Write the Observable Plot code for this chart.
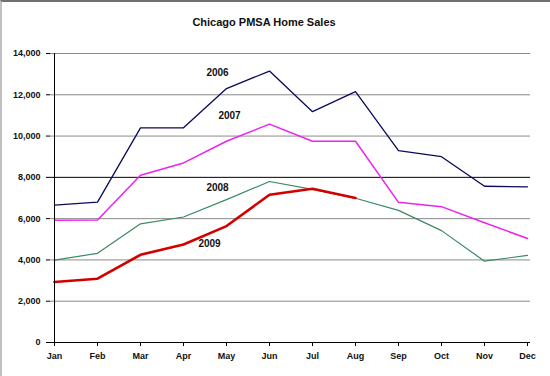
<!DOCTYPE html>
<html>
<head>
<meta charset="utf-8">
<script src="https://cdn.jsdelivr.net/npm/d3@7"></script>
<script src="https://cdn.jsdelivr.net/npm/@observablehq/plot@0.6"></script>
<style>
  html, body { margin: 0; padding: 0; background: #fff; }
  #wrap { position: relative; width: 548px; height: 374px; border-top: 2px solid #707070; border-left: 2px solid #c0c0c0; overflow: hidden; background: #fff; }
  #title { position: absolute; left: 0; top: 0; width: 524px; height: 38px; font: bold 11px "Liberation Sans", Arial, sans-serif; line-height: 40px; text-align: center; color: #111; }
  #chart { position: absolute; left: -2px; top: 38px; }
</style>
</head>
<body>
<div id="wrap">
  <div id="title">Chicago PMSA Home Sales</div>
  <div id="chart"></div>
</div>
<script>
const months = ["Jan","Feb","Mar","Apr","May","Jun","Jul","Aug","Sep","Oct","Nov","Dec"];
const yearLabels = ["2006","2007","2008","2009"];
const sales2006 = [6650, 6800, 10400, 10400, 12300, 13150, 11180, 12150, 9290, 9000, 7570, 7540];
const sales2007 = [5920, 5930, 8100, 8700, 9750, 10580, 9750, 9750, 6790, 6580, 5800, 5040];
const sales2008 = [3990, 4320, 5750, 6080, 6920, 7800, 7420, 6990, 6400, 5420, 3940, 4220];
const sales2009 = [2930, 3090, 4250, 4750, 5640, 7160, 7450, 7000];
const yTicks = [0, 2000, 4000, 6000, 8000, 10000, 12000, 14000];

const seriesValues = [sales2006, sales2007, sales2008, sales2009];
const colors = ["#0a0a5c", "#ee22ee", "#3a8a62", "#d40000"];
const widths = [1.3, 1.5, 1.2, 2.6];
const labelOffsets = [[-9, -16], [3, -25], [-9, -12], [-17, 18]];

const rows = [];
seriesValues.forEach((vals, i) => vals.forEach((v, j) => rows.push({year: yearLabels[i], month: months[j], value: v})));
const labelRows = yearLabels.map((y, i) => ({year: y, month: "May", value: seriesValues[i][4], i}));

const font = '"Liberation Sans", Arial, sans-serif';

const marks = [
  Plot.ruleY(yTicks.filter(t => t > 0 && t !== 8000), {stroke: "#8a8a8a", strokeWidth: 1}),
  Plot.ruleY([8000], {stroke: "#000", strokeWidth: 1}),
  ...yearLabels.map((y, i) => Plot.line(rows.filter(r => r.year === y), {
    x: "month", y: "value", stroke: colors[i], strokeWidth: widths[i], strokeLinejoin: "round"
  })),
  ...labelRows.map(r => Plot.text([r], {
    x: "month", y: "value", text: "year", dx: labelOffsets[r.i][0], dy: labelOffsets[r.i][1],
    fill: "#111", fontWeight: "bold", fontSize: 10, fontFamily: font
  })),
  Plot.ruleX([months[0]], {y1: 0, y2: 14000, stroke: "#000"}),
  Plot.ruleY([0], {stroke: "#000"}),
  Plot.axisY({ticks: yTicks, tickSize: 4, tickPadding: 6, tickFormat: d3.format(","), stroke: "#000", fill: "#111", fontWeight: "bold", fontSize: 9, fontFamily: font, label: null}),
  Plot.axisX({tickSize: 4, tickPadding: 6, stroke: "#000", fill: "#111", fontWeight: "bold", fontSize: 9, fontFamily: font, label: null})
];

const chart = Plot.plot({
  width: 550,
  height: 336,
  marginTop: 13,
  marginBottom: 34,
  marginLeft: 50,
  marginRight: 20,
  style: {background: "transparent", fontFamily: font, overflow: "visible"},
  x: {type: "point", domain: months, padding: 0},
  y: {domain: [0, 14000]},
  marks
});
document.getElementById("chart").appendChild(chart);
</script>
</body>
</html>
